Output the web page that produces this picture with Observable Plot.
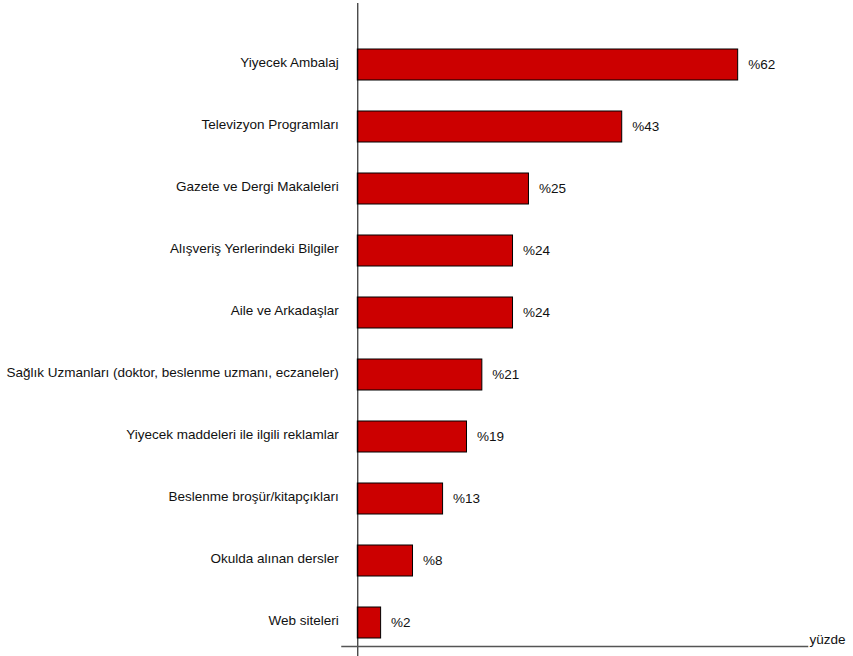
<!DOCTYPE html>
<html>
<head>
<meta charset="utf-8">
<script src="https://cdn.jsdelivr.net/npm/d3@7"></script>
<script src="https://cdn.jsdelivr.net/npm/@observablehq/plot@0.6"></script>
<style>
  html, body { margin: 0; padding: 0; background: #fff; }
  #chart svg { display: block; }
</style>
</head>
<body>
<div id="chart"></div>
<script>
const categories = [
  "Yiyecek Ambalaj",
  "Televizyon Programları",
  "Gazete ve Dergi Makaleleri",
  "Alışveriş Yerlerindeki Bilgiler",
  "Aile ve Arkadaşlar",
  "Sağlık Uzmanları (doktor, beslenme uzmanı, eczaneler)",
  "Yiyecek maddeleri ile ilgili reklamlar",
  "Beslenme broşür/kitapçıkları",
  "Okulda alınan dersler",
  "Web siteleri"
];
// bar lengths as drawn in the picture
const values = [62, 43.1, 27.9, 25.3, 25.3, 20.3, 17.8, 13.9, 9.0, 3.8];
// printed value labels
const valueLabels = ["%62", "%43", "%25", "%24", "%24", "%21", "%19", "%13", "%8", "%2"];
const axisLabel = "yüzde";

const data = categories.map((c, i) => ({cat: c, value: values[i], label: valueLabels[i]}));

const plot = Plot.plot({
  width: 853,
  height: 656,
  marginLeft: 357.3,
  marginRight: 46,
  marginTop: 45.5,
  marginBottom: 14.6,
  style: {fontFamily: "'Liberation Sans', Arial, sans-serif", fontSize: "13.5px", color: "#111", background: "#fff"},
  x: {domain: [0, 73.3], axis: null},
  y: {type: "band", domain: categories, paddingInner: 0.494, paddingOuter: 0, axis: null},
  marks: [
    Plot.barX(data, {x: "value", y: "cat", fill: "#CC0000", stroke: "#000", strokeWidth: 1}),
    Plot.ruleX([0], {stroke: "#000", strokeWidth: 1, insetTop: -42.5, insetBottom: -14.6}),
    Plot.frame({anchor: "bottom", stroke: "#555", strokeWidth: 1.5, insetBottom: -4.6, insetLeft: -15.8}),
    Plot.text(data, {x: 0, y: "cat", text: "cat", textAnchor: "end", dx: -19, dy: -2, fontSize: 13.5, fill: "#111"}),
    Plot.text(data, {x: "value", y: "cat", text: "label", textAnchor: "start", dx: 10, fontSize: 13.5, fill: "#111"}),
    Plot.text([axisLabel], {frameAnchor: "bottom-right", textAnchor: "start", dx: 2, dy: 2, fontSize: 13.5, fill: "#111"})
  ]
});
document.getElementById("chart").appendChild(plot);
</script>
</body>
</html>
